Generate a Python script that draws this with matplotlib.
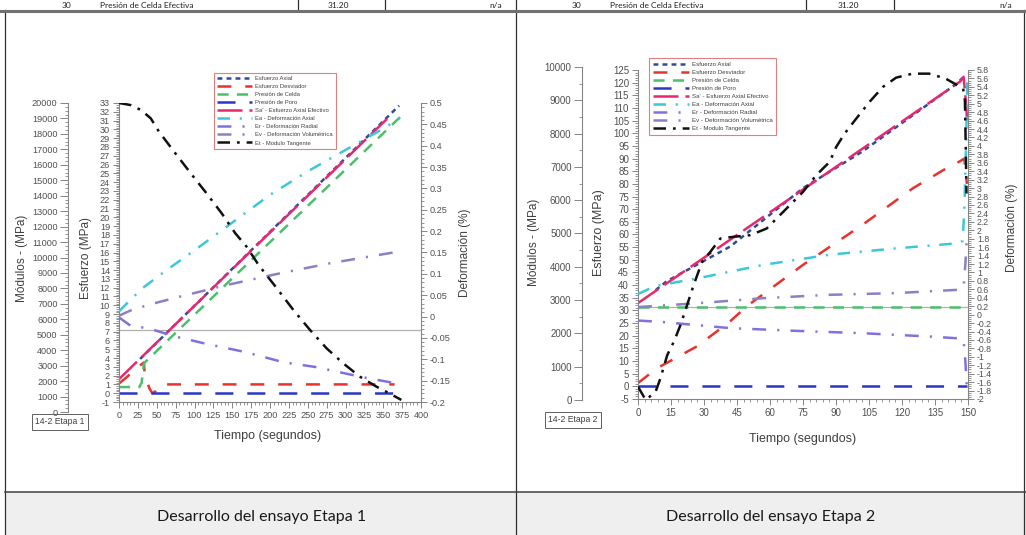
import matplotlib
matplotlib.use('Agg')
import matplotlib.pyplot as plt
from matplotlib.ticker import MultipleLocator, FuncFormatter
from matplotlib.patches import Rectangle

plt.rcParams['font.family'] = ['Liberation Sans', 'DejaVu Sans']
plt.rcParams['axes.unicode_minus'] = False
plt.rcParams['lines.scale_dashes'] = False

names = ['Esfuerzo Axial', 'Esfuerzo Desviador', 'Presión de Celda', 'Presión de Poro',
         "Sa' - Esfuerzo Axial Efectivo", 'Ea - Deformación Axial',
         'Er - Deformación Radial', 'Ev - Deformación Volumétrica', 'Et - Modulo Tangente']

# ---------- Etapa 1 (tiempo en s, esfuerzo MPa, deformacion %, modulo MPa) ----------
t1_axial = [28, 371]
e1_axial = [3.9, 32.7]
t1_desv = [0, 10, 20, 30, 33, 34, 37, 40, 44, 48, 53, 60, 365]
e1_desv = [1.1, 1.8, 2.6, 3.3, 3.5, 2.2, 1.4, 0.6, 0.0, 0.2, 0.8, 1.0, 1.0]
t1_celda = [0, 27, 30, 33, 376]
e1_celda = [0.7, 0.7, 1.2, 3.4, 31.7]
t1_poro = [0, 375]
e1_poro = [0, 0]
t1_sa = [0, 355]
e1_sa = [1.6, 31.2]
t1_ea = [0, 10, 30, 60, 100, 150, 200, 250, 300, 350, 372]
d1_ea = [0.012, 0.03, 0.065, 0.105, 0.155, 0.22, 0.285, 0.34, 0.39, 0.44, 0.465]
t1_er = [0, 15, 40, 75, 116, 167, 218, 260, 323, 369]
d1_er = [-0.002, -0.021, -0.028, -0.047, -0.064, -0.083, -0.107, -0.118, -0.142, -0.157]
t1_ev = [0, 15, 40, 77, 138, 210, 280, 370]
d1_ev = [0.002, 0.014, 0.028, 0.045, 0.072, 0.1, 0.125, 0.152]
t1_et = [0, 15, 29, 42, 53, 73, 95, 116, 136, 154, 169, 185, 209, 231, 253, 275, 297, 319, 341, 358, 374]
m1_et = [20000, 19870, 19550, 19010, 18140, 16850, 15450, 14150, 12860, 11570, 10700, 9510,
         8010, 6600, 5310, 4120, 3150, 2290, 1640, 1210, 780]
ref1 = 7.2

# ---------- Etapa 2 ----------
t2_axial = [8, 13, 42, 75, 102, 145, 147.7]
e2_axial = [38.0, 41.5, 55.3, 78.3, 92.8, 119.7, 122]
t2_desv = [0, 8.7, 26.8, 41.9, 49.4, 75, 102, 125, 141.4, 146.5, 148.3, 149.5]
e2_desv = [1.3, 7.2, 15.8, 25.7, 31.6, 48, 63.8, 78.3, 86.8, 89, 90, 80]
t2_celda = [0, 149.5]
e2_celda = [31.2, 31.2]
t2_poro = [0, 149.5]
e2_poro = [0, 0]
t2_sa = [0, 146.5, 148, 149, 149.6]
e2_sa = [32.9, 120.5, 122.3, 113, 105]
t2_ea = [0, 8, 27, 57, 87, 117, 145, 147.6, 148.4, 149.1, 149.7]
d2_ea = [0.49, 0.68, 0.86, 1.18, 1.42, 1.57, 1.69, 1.75, 2.6, 4.0, 5.6]
t2_er = [0, 10, 42, 72, 102, 133, 145, 148, 148.8, 149.5]
d2_er = [-0.14, -0.17, -0.32, -0.385, -0.44, -0.52, -0.56, -0.6, -1.1, -1.75]
t2_ev = [0, 27, 57, 87, 117, 146, 148, 148.8, 149.5]
d2_ev = [0.18, 0.27, 0.39, 0.47, 0.51, 0.59, 0.65, 1.2, 1.85]
t2_et = [0, 3.5, 8, 10.2, 13.3, 16.3, 19.3, 22.3, 25.3, 29.1, 32.9, 37.4, 43.4, 51, 58.5, 63,
         69, 75, 81, 87.1, 90.1, 93.9, 99.2, 105.2, 111.3, 117.3, 124.8, 132.4, 139.9, 145.2,
         147.8, 148.6, 149.0, 149.3]
m2_et = [400, 0, 250, 650, 1350, 1750, 2250, 2850, 3450, 4150, 4450, 4850, 4900, 4950, 5150, 5450,
         5850, 6250, 6750, 7150, 7600, 8000, 8450, 8950, 9400, 9680, 9800, 9800, 9650, 9450,
         9350, 9000, 7500, 6200]
ref2 = 31.2

colors = ['#2e4a9a', '#e8322e', '#4cbf6a', '#2b35c8', '#e8286e', '#3cc8d8', '#7f72e0', '#8c7fc4', '#111111']
dashes = [(0, (3.5, 3)), (0, (10, 10)), (0, (8, 6)), (0, (13, 10)), (0, (18, 5)),
          (0, (9, 7, 1.5, 7)), (0, (10, 8, 1.5, 8)), (0, (10, 8, 1.5, 8)), (0, (9, 5, 2, 5))]

W, H = 1026, 535
fig = plt.figure(figsize=(W / 100, H / 100), dpi=100)
GRAY = '#858585'
TXT = '#505050'


def box(l, t, r, b):
    return [l / W, 1 - b / H, (r - l) / W, (b - t) / H]


def fmt(v, pos):
    return '%g' % (round(v, 4) + 0.0)


def setup(axis, major, minor):
    axis.set_major_locator(MultipleLocator(major))
    axis.set_minor_locator(MultipleLocator(minor))
    axis.set_major_formatter(FuncFormatter(fmt))


def ticks(ax, axis, fs):
    ax.tick_params(axis=axis, which='major', length=4.5, width=0.7, color=GRAY,
                   labelsize=fs, labelcolor=TXT, pad=2)
    ax.tick_params(axis=axis, which='minor', length=2.2, width=0.6, color=GRAY)


def panel(main, mod, mod_out, xlim, xs, elim, es, dlim, ds, mlim, ms, fs):
    ax = fig.add_axes(box(*main))
    ax.patch.set_visible(False)
    for s in ['top', 'right']:
        ax.spines[s].set_visible(False)
    ax.set_xlim(*xlim)
    ax.set_ylim(*elim)
    setup(ax.xaxis, *xs)
    setup(ax.yaxis, *es)
    ticks(ax, 'both', fs)

    axd = ax.twinx()
    for s in ['top', 'left', 'bottom']:
        axd.spines[s].set_visible(False)
    axd.set_ylim(*dlim)
    setup(axd.yaxis, *ds)
    ticks(axd, 'y', fs)

    axm = fig.add_axes(box(*mod))
    axm.patch.set_visible(False)
    for s in ['top', 'right', 'bottom']:
        axm.spines[s].set_visible(False)
    axm.spines['left'].set_position(('outward', mod_out * 0.72))
    axm.set_xlim(*xlim)
    axm.set_ylim(*mlim)
    axm.set_xticks([])
    setup(axm.yaxis, *ms)
    ticks(axm, 'y', fs)
    axm.tick_params(axis='y', which='major', length=5.5)
    for a in (ax, axd, axm):
        for s in a.spines.values():
            s.set_color(GRAY)
            s.set_linewidth(0.8)
    return ax, axd, axm


def draw(ax, axd, axm, series, ref, legend_at, lfs, lsp):
    ax.axhline(ref, color='#b0b0b0', lw=0.9, zorder=0)
    handles = []
    for i, (t, v) in enumerate(series):
        target = ax if i < 5 else (axd if i < 8 else axm)
        ln, = target.plot(t, v, color=colors[i], ls=dashes[i], lw=1.8)
        handles.append(ln)
    fig.legend(handles, names, loc='upper left', bbox_to_anchor=legend_at,
               fontsize=lfs, labelspacing=lsp, handlelength=6.0, handletextpad=0.4,
               borderpad=0.6, fancybox=False, framealpha=1, edgecolor='#e08080',
               labelcolor='#404040').get_frame().set_linewidth(0.8)


# background table
bg = fig.add_axes([0, 0, 1, 1])
bg.set_xlim(0, W)
bg.set_ylim(H, 0)
bg.axis('off')
bg.add_patch(Rectangle((5, 492), W - 5, H - 492, color='#efefef', lw=0))
for x in [5, 516, 1024]:
    bg.plot([x, x], [10, H], color='#303030', lw=0.9)
bg.plot([516, 516], [0, 10], color='#303030', lw=0.9)
for x in [298, 385, 806, 894]:
    bg.plot([x, x], [0, 9], color='#303030', lw=0.9)
bg.plot([0, W], [11, 11], color='#707070', lw=2.2)
cut = dict(fontsize=6, color='#202020', va='center', family=['Lato', 'DejaVu Sans'])
for x0 in [0, 510]:
    bg.text(x0 + 62, 5.5, '30', ha='left', **cut)
    bg.text(x0 + 100, 5.5, 'Presión de Celda Efectiva', ha='left', **cut)
    bg.text(x0 + 338, 5.5, '31.20', ha='center', **cut)
    bg.text(x0 + 502, 5.5, 'n/a', ha='right', **cut)
bg.plot([5, W], [492, 492], color='#404040', lw=1.1)
bot = dict(fontsize=11.5, color='#1a1a1a', va='center', ha='center', family=['Lato', 'DejaVu Sans'])
bg.text(262, 517, 'Desarrollo del ensayo Etapa 1', **bot)
bg.text(771, 517, 'Desarrollo del ensayo Etapa 2', **bot)

# Etapa 1
a1 = panel((119, 103, 421, 402), (119, 103, 421, 412), 51, (0, 400), (25, 5), (-1, 33), (1, 0.2),
           (-0.2, 0.5), (0.05, 0.01), (0, 20000), (1000, 250), 6.6)
draw(*a1, [(t1_axial, e1_axial), (t1_desv, e1_desv), (t1_celda, e1_celda), (t1_poro, e1_poro),
           (t1_sa, e1_sa), (t1_ea, d1_ea), (t1_er, d1_er), (t1_ev, d1_ev), (t1_et, m1_et)],
     ref1, (211 / W, 1 - 70 / H), 4.2, 0.5)

# Etapa 2
a2 = panel((638, 70, 968, 399), (638, 67, 968, 400), 56, (0, 150), (15, 3), (-5, 125), (5, 1),
           (-2, 5.8), (0.2, 0.05), (0, 10000), (1000, 500), 7.0)
a2[1].tick_params(axis='y', labelsize=6.3)
draw(*a2, [(t2_axial, e2_axial), (t2_desv, e2_desv), (t2_celda, e2_celda), (t2_poro, e2_poro),
           (t2_sa, e2_sa), (t2_ea, d2_ea), (t2_er, d2_er), (t2_ev, d2_ev), (t2_et, m2_et)],
     ref2, (646 / W, 1 - 55 / H), 4.4, 0.45)

lab = dict(color='#404040', va='center', ha='center', transform=bg.transData)
bg.text(22, 258, 'Módulos - (MPa)', rotation=90, fontsize=8.5, **lab)
bg.text(86, 258, 'Esfuerzo (MPa)', rotation=90, fontsize=8.5, **lab)
bg.text(465, 253, 'Deformación (%)', rotation=90, fontsize=8.5, **lab)
bg.text(268, 436, 'Tiempo (segundos)', fontsize=9, **lab)
bg.text(534, 242, 'Módulos - (MPa)', rotation=90, fontsize=8.5, **lab)
bg.text(599, 233, 'Esfuerzo (MPa)', rotation=90, fontsize=9, **lab)
bg.text(1012, 228, 'Deformación (%)', rotation=90, fontsize=8.5, **lab)
bg.text(803, 439, 'Tiempo (segundos)', fontsize=9, **lab)
tag = dict(fontsize=6.2, color='#404040', va='center', ha='center',
           bbox=dict(boxstyle='square,pad=0.35', fc='white', ec='#606060', lw=0.7))
bg.text(60, 422, '14-2 Etapa 1', **tag)
bg.text(573, 420, '14-2 Etapa 2', **tag)

fig.savefig('out.png', dpi=100)
